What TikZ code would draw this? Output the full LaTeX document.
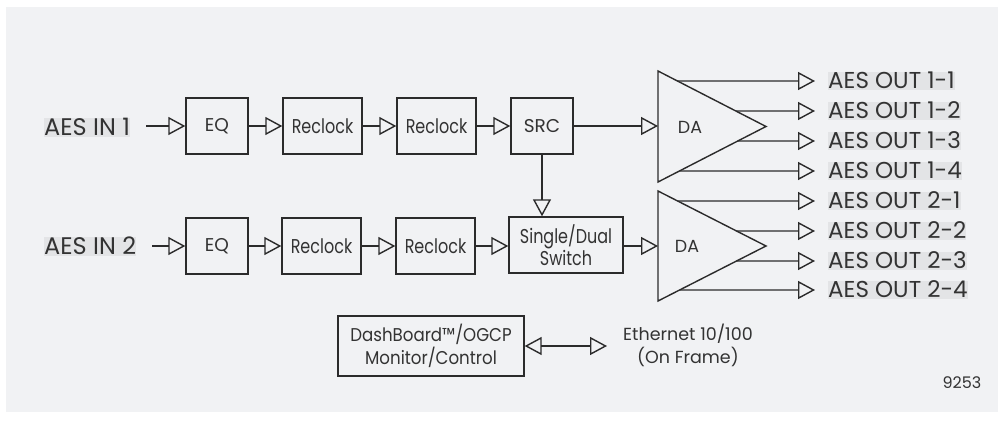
\documentclass[tikz,border=0pt]{standalone}
\usepackage{fontspec}
\setmainfont{Poppins}
\newfontfamily\condA{Poppins}[FakeStretch=0.8]
\newfontfamily\condB{Poppins}[FakeStretch=0.9]
\usetikzlibrary{arrows.meta,calc}
\definecolor{bg}{HTML}{F1F2F4}
\definecolor{hl}{HTML}{E3E4E6}
\definecolor{ink}{HTML}{2B2B2B}
\definecolor{txt}{HTML}{333333}
\tikzset{
  blk/.style={draw=ink, line width=1.4pt, minimum height=56pt, inner sep=0pt, font=\fontsize{18.5}{20}\selectfont, text=txt},
  lc/.style={font=\condA\fontsize{20}{20}\selectfont},
  arr/.style={draw=ink, line width=1.4pt, -{Triangle[open,length=17pt,width=18pt,line width=1.4pt]}},
  darr/.style={draw=ink, line width=1.4pt, {Triangle[open,length=17pt,width=18pt,line width=1.4pt]}-{Triangle[open,length=17pt,width=18pt,line width=1.4pt]}},
  lbl/.style={fill=hl, inner xsep=0pt, inner ysep=0.5pt, text height=17pt, text depth=1pt, text=txt, font=\fontsize{24}{24}\selectfont},
  olbl/.style={fill=hl, inner xsep=0pt, inner ysep=0.5pt, text height=16pt, text depth=1pt, text=txt, font=\fontsize{23}{23}\selectfont, anchor=west},
  da/.style={draw=ink, line width=1.4pt},
  small/.style={text=txt, font=\fontsize{17.5}{23}\selectfont, align=center}
}
\begin{document}
\begin{tikzpicture}[x=1pt,y=-1pt]
\useasboundingbox[fill=white] (0,0) rectangle (1005,426);
\fill[bg] (6,7) rectangle (998,412);
% row 1
\node[lbl, anchor=west] (in1) at (44,127) {AES IN 1};
\node[blk, minimum width=62pt] (eq1) at (217,126) {EQ};
\node[blk, lc, minimum width=79pt] (rc1a) at (322.5,126) {Reclock};
\node[blk, lc, minimum width=79pt] (rc1b) at (436.5,126) {Reclock};
\node[blk, minimum width=62pt] (src) at (542,126) {SRC};
% row 2
\node[lbl, anchor=west] (in2) at (44,246) {AES IN 2};
\node[blk, minimum width=62pt] (eq2) at (217,246) {EQ};
\node[blk, lc, minimum width=79pt] (rc2a) at (321.5,246) {Reclock};
\node[blk, lc, minimum width=79pt] (rc2b) at (435.5,246) {Reclock};
\node[blk, minimum width=114pt, align=center, font=\condA\fontsize{20}{20}\selectfont] (sw) at (566,245) {Single/Dual\\Switch};
% DA triangles
\coordinate (d1t) at (658,71); \coordinate (d1b) at (658,182); \coordinate (d1p) at (766,126.5);
\coordinate (d2t) at (658,191); \coordinate (d2b) at (658,301); \coordinate (d2p) at (766,246);
\draw[da] (d1t) -- (d1p) -- (d1b) -- cycle;
\draw[da] (d2t) -- (d2p) -- (d2b) -- cycle;
\node[small] (da1) at (690,127) {DA};
\node[small] (da2) at (687,246) {DA};
\coordinate (da1in) at (658,126);
\coordinate (da2in) at (658,246);
% connectors
\draw[arr] (in1.east |- eq1.west) ++(16,0) coordinate (s1) (s1) -- (eq1.west);
\draw[arr] (eq1) -- (rc1a);
\draw[arr] (rc1a) -- (rc1b);
\draw[arr] (rc1b) -- (src);
\draw[arr] (src.east) -- (da1in);
\draw[arr] (src.south) -- (src.south |- sw.north);
\draw[arr] (in2.east |- eq2.west) ++(16,0) coordinate (s2) (s2) -- (eq2.west);
\draw[arr] (eq2) -- (rc2a);
\draw[arr] (rc2a) -- (rc2b);
\draw[arr] (rc2b.east) -- (rc2b.east -| sw.west);
\draw[arr] (sw.east |- da2in) -- (da2in);
% outputs
\coordinate (o11) at (815,81);  \coordinate (o12) at (815,111);
\coordinate (o13) at (815,141); \coordinate (o14) at (815,171);
\coordinate (o21) at (815,201); \coordinate (o22) at (815,231);
\coordinate (o23) at (815,261); \coordinate (o24) at (815,290);
\draw[arr] ($(d1t)!10/55.5!(d1p)$) -- (o11);
\draw[arr] ($(d1t)!40/55.5!(d1p)$) -- (o12);
\draw[arr] ($(d1b)!41/55.5!(d1p)$) -- (o13);
\draw[arr] ($(d1b)!11/55.5!(d1p)$) -- (o14);
\draw[arr] ($(d2t)!10/55!(d2p)$) -- (o21);
\draw[arr] ($(d2t)!40/55!(d2p)$) -- (o22);
\draw[arr] ($(d2b)!40/55!(d2p)$) -- (o23);
\draw[arr] ($(d2b)!11/55!(d2p)$) -- (o24);
\node[olbl] (l11) at (828,81) {AES OUT 1-1};
\node[olbl] (l12) at (828,111) {AES OUT 1-2};
\node[olbl] (l13) at (828,141) {AES OUT 1-3};
\node[olbl] (l14) at (828,171) {AES OUT 1-4};
\node[olbl] (l21) at (828,201) {AES OUT 2-1};
\node[olbl] (l22) at (828,231) {AES OUT 2-2};
\node[olbl] (l23) at (828,261) {AES OUT 2-3};
\node[olbl] (l24) at (828,290) {AES OUT 2-4};
% dashboard
\node[blk, minimum width=186pt, minimum height=60pt, align=center, font=\condB\fontsize{18.5}{23}\selectfont] (dash) at (431,346) {DashBoard™/OGCP\\Monitor/Control};
\coordinate (eth) at (607,346);
\draw[darr] (dash.east) -- (eth);
\node[small] (ethl) at (688,345) {Ethernet 10/100\\(On Frame)};
\node[small, font=\fontsize{16}{18}\selectfont] (num) at (962,383) {9253};
\end{tikzpicture}
\end{document}
